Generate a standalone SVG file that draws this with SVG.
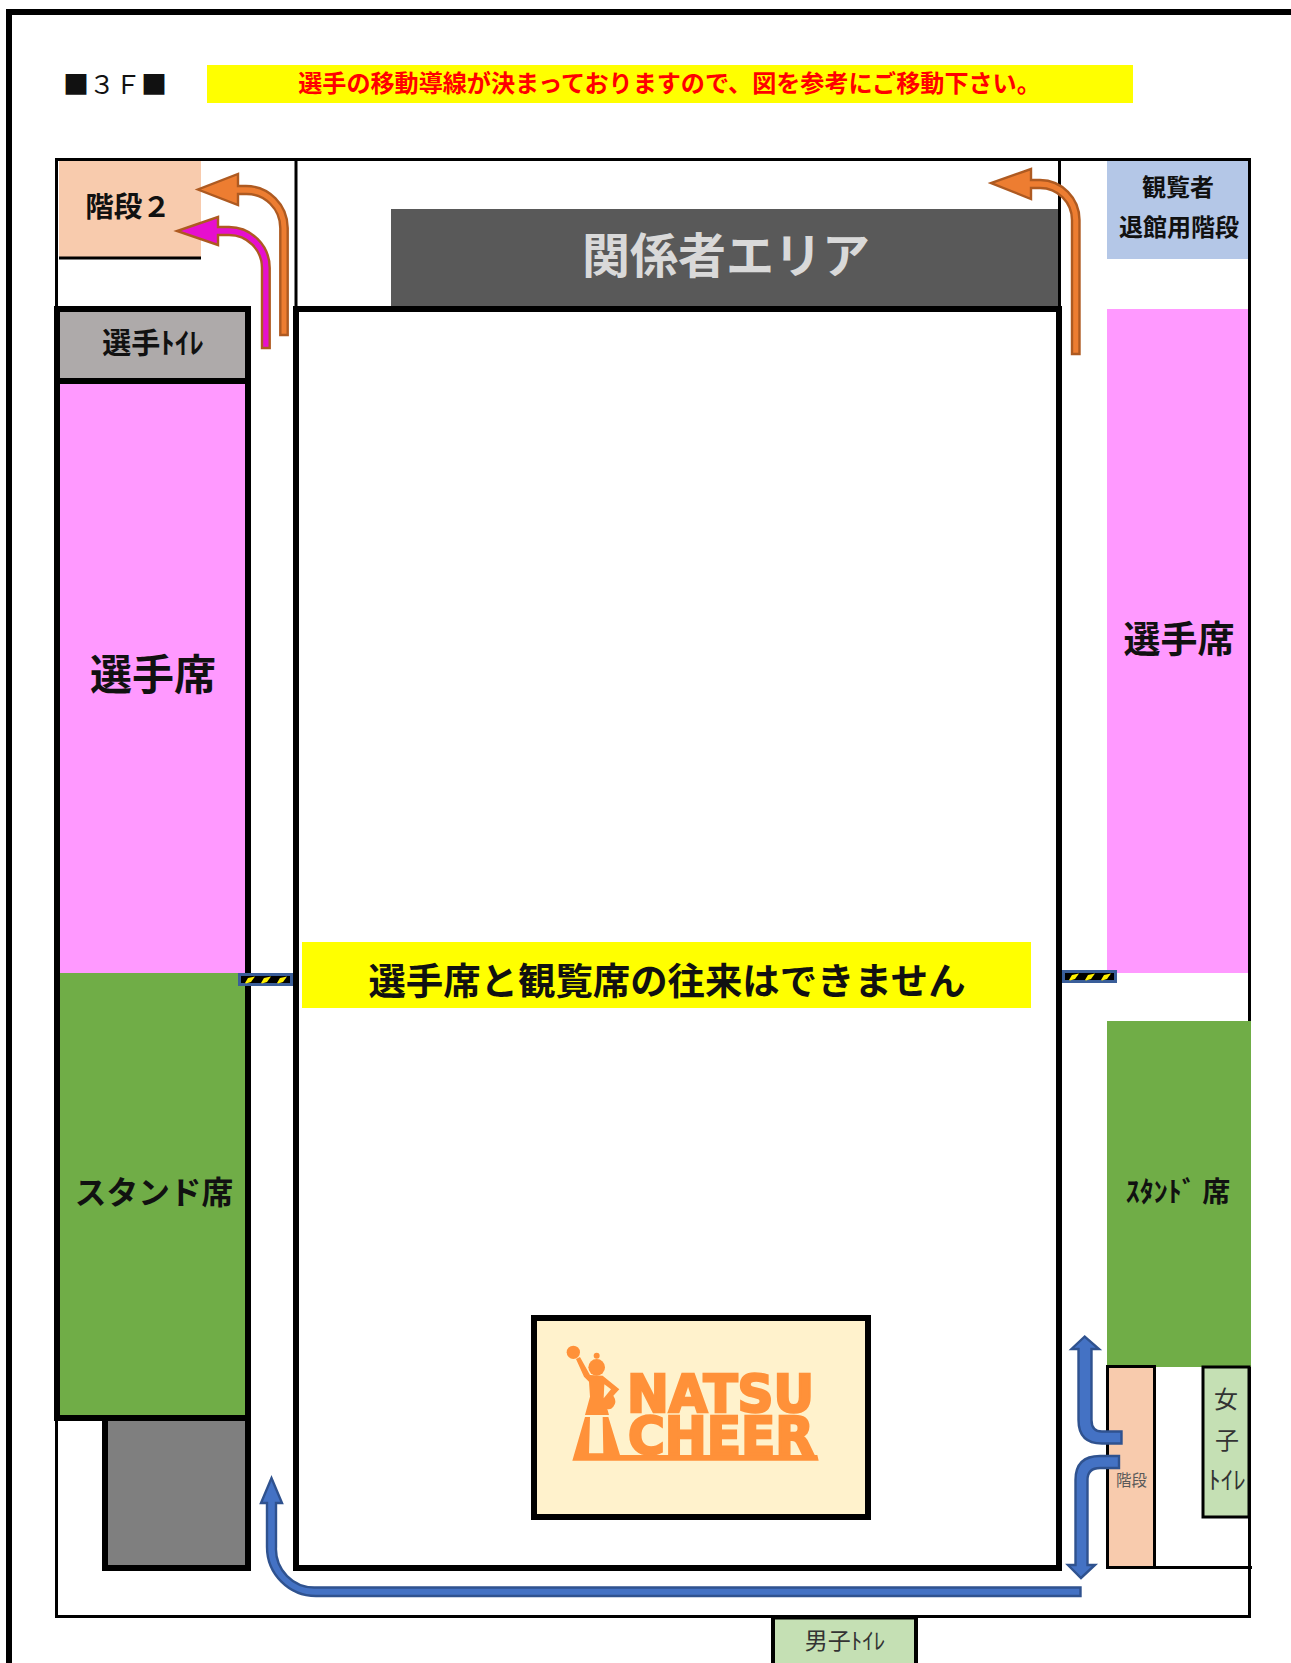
<svg xmlns="http://www.w3.org/2000/svg" width="1291" height="1663" viewBox="0 0 1291 1663">
<defs>
<style>
text{font-family:"Noto Sans CJK JP","Noto Sans",sans-serif;text-anchor:middle;dominant-baseline:central;fill:#111}
.b{font-weight:700}
.wall{stroke:#000;stroke-width:6}
.thin{stroke:#000;stroke-width:3}
.nf{fill:none}
.or{fill:#ED7D31;stroke:#AE5A21;stroke-width:2.4}
.mg{fill:#E60FCF;stroke:#AE5A21;stroke-width:2.4}
.bl{fill:#4472C4;stroke:#2F528F;stroke-width:2.4}
.logo{fill:#FF9139}
.lt{font-family:"DejaVu Sans",sans-serif;font-weight:700;fill:#FF9139;stroke:#FF9139;stroke-width:2.500;text-anchor:start;dominant-baseline:alphabetic}
</style>
<g id="barrier">
<rect x="1.5" y="1.5" width="52" height="10" fill="#000" stroke="#3A5E99" stroke-width="3"/>
<path d="M7 10 L10 5 L17 3.500 L13 9 L8 10.500Z" fill="#FFF000"/>
<path d="M23 10 L26 5 L33 3.500 L29 9 L24 10.500Z" fill="#FFF000"/>
<path d="M39 10 L42 5 L49 3.500 L45 9 L40 10.500Z" fill="#FFF000"/>
</g>
</defs>
<rect width="1291" height="1663" fill="#fff"/>
<path class="wall nf" d="M9 1663V12H1291"/>
<g id="title"><text x="115" y="82" font-size="26">■３Ｆ■</text></g>
<g id="notice"><rect x="207" y="65" width="926" height="38" fill="#FFFF00"/><text x="669.500" y="81" font-size="24.100" class="b" style="fill:#FF0000">選手の移動導線が決まっておりますので、図を参考にご移動下さい。</text></g>
<g id="floor">
<rect x="56.500" y="159.500" width="1193" height="1457" class="thin nf"/>
<path class="thin nf" d="M296 160V306M1059.500 160V306"/>
</g>
<g id="stairs2"><rect x="59" y="161" width="142" height="96" fill="#F8CBAD"/><path d="M59 258H201" class="thin nf"/><text x="128" y="204" font-size="28.500" class="b">階段２</text></g>
<g id="staff-area"><rect x="391" y="209" width="667" height="97" fill="#595959"/><text x="726" y="252" font-size="48" class="b" style="fill:#D9D9D9">関係者エリア</text></g>
<g id="visitor-stairs"><rect x="1107" y="161" width="141" height="98" fill="#B4C7E7"/><text x="1178" y="185" font-size="24" class="b">観覧者</text><text x="1179" y="225" font-size="24" class="b">退館用階段</text></g>
<g id="arena"><rect x="296" y="309" width="763" height="1259" class="wall" fill="#fff"/></g>
<g id="player-toilet"><rect x="60" y="312" width="185" height="66" fill="#AEAAAA"/><text x="153" y="341" font-size="29" class="b">選手ﾄｲﾚ</text></g>
<g id="player-seats-left"><rect x="60" y="384" width="185" height="589" fill="#FF99FF"/><text x="153" y="671" font-size="42" class="b">選手席</text></g>
<g id="stand-left"><rect x="60" y="973" width="185" height="442" fill="#70AD47"/><text x="154" y="1190" font-size="31.700" class="b">スタンド席</text></g>
<path class="wall nf" d="M57 1421V309H248V1418M57 381H248M57 1418H248"/>
<g id="grey-block"><rect x="105" y="1418" width="143" height="150" fill="#7F7F7F" class="wall"/></g>
<g id="player-seats-right"><rect x="1107" y="309" width="141" height="664" fill="#FF99FF"/><text x="1179" y="637" font-size="37" class="b">選手席</text></g>
<g id="stand-right"><rect x="1107" y="1021" width="144" height="346" fill="#70AD47"/><text x="1178" y="1190" font-size="28" class="b">ｽﾀﾝﾄﾞ 席</text></g>
<g id="stairs"><rect x="1107.500" y="1366.500" width="47" height="201" fill="#F8CBAD" class="thin"/><text x="1131.500" y="1479" font-size="15.500" style="fill:#595959">階段</text></g>
<path class="thin nf" d="M1106 1567.500H1252"/>
<g id="womens-toilet"><rect x="1203" y="1367" width="46" height="150" fill="#C5E0B4" class="thin"/><text x="1226" y="1397" font-size="24" style="fill:#333">女</text><text x="1227" y="1438" font-size="24" style="fill:#333">子</text><text x="1227" y="1478" font-size="25" style="fill:#333">ﾄｲﾚ</text></g>
<g id="mens-toilet"><rect x="773" y="1617.500" width="143" height="60" fill="#C5E0B4" stroke="#000" stroke-width="4"/><text x="845" y="1639" font-size="23" style="fill:#333">男子ﾄｲﾚ</text></g>
<g id="notice-2"><rect x="302" y="942" width="729" height="66" fill="#FFFF00"/><text x="667" y="979" font-size="37.400" class="b">選手席と観覧席の往来はできません</text></g>
<g id="logo"><rect x="534" y="1318" width="334" height="199" fill="#FFF2CC" class="wall"/>
<g transform="translate(560 1335) scale(.33333)">
<circle class="logo" cx="40" cy="52" r="20"/><circle class="logo" cx="110" cy="97" r="25"/><circle class="logo" cx="110" cy="62" r="9"/>
<path class="logo" d="M48 72L60 66L90 120L128 122L178 163L160 182Q172 200 160 215Q152 225 142 222L147 240H75L90 185L87 140L72 125Z"/>
<path d="M133 148L153 163L131 190Z" fill="#FFF2CC"/>
<path class="logo" d="M75 246H90L87 355H130L128 246H145L180 360H772L776 377H37Z"/>
</g>
<text class="lt" x="627" y="1412" font-size="51" textLength="187" lengthAdjust="spacingAndGlyphs">NATSU</text>
<text class="lt" x="628" y="1454" font-size="51" textLength="186" lengthAdjust="spacingAndGlyphs">CHEER</text>
</g>
<g id="connectors">
<path class="or" d="M287.700 335V228A41.700 42 0 0 0 246 186H238V174L198 189.500L238 205V194H246A33.700 34 0 0 1 280.300 228V335Z"/>
<path class="mg" d="M269.700 348V268A41 41 0 0 0 229 227H218V217L177 231L218 245V235H229A33 33 0 0 1 262 268V348Z"/>
<path class="or" d="M1079.500 354V220A40 40 0 0 0 1040 180H1031V169L991 183L1031 199V188H1040A32 32 0 0 1 1072 220V354Z"/>
<path class="bl" d="M1121.500 1431.500H1102Q1091.500 1431.500 1091.500 1420V1349H1099L1084.700 1336.500L1071.500 1349H1078.500V1420Q1078.500 1443.500 1102 1443.500H1121.500Z"/>
<path class="bl" d="M1119 1456H1100Q1075.500 1456 1075.500 1480V1565H1068L1081 1578L1095 1565H1087.500V1480Q1087.500 1468 1100 1468H1119Z"/>
<path class="bl" d="M1080.500 1587.500H316A38.500 38.500 0 0 1 276 1547V1503H282L271.500 1478L261 1503H267V1547A49 49 0 0 0 316 1596H1080.500Z"/>
</g>
<use href="#barrier" x="238" y="973"/>
<use href="#barrier" x="1062" y="970"/>
</svg>
